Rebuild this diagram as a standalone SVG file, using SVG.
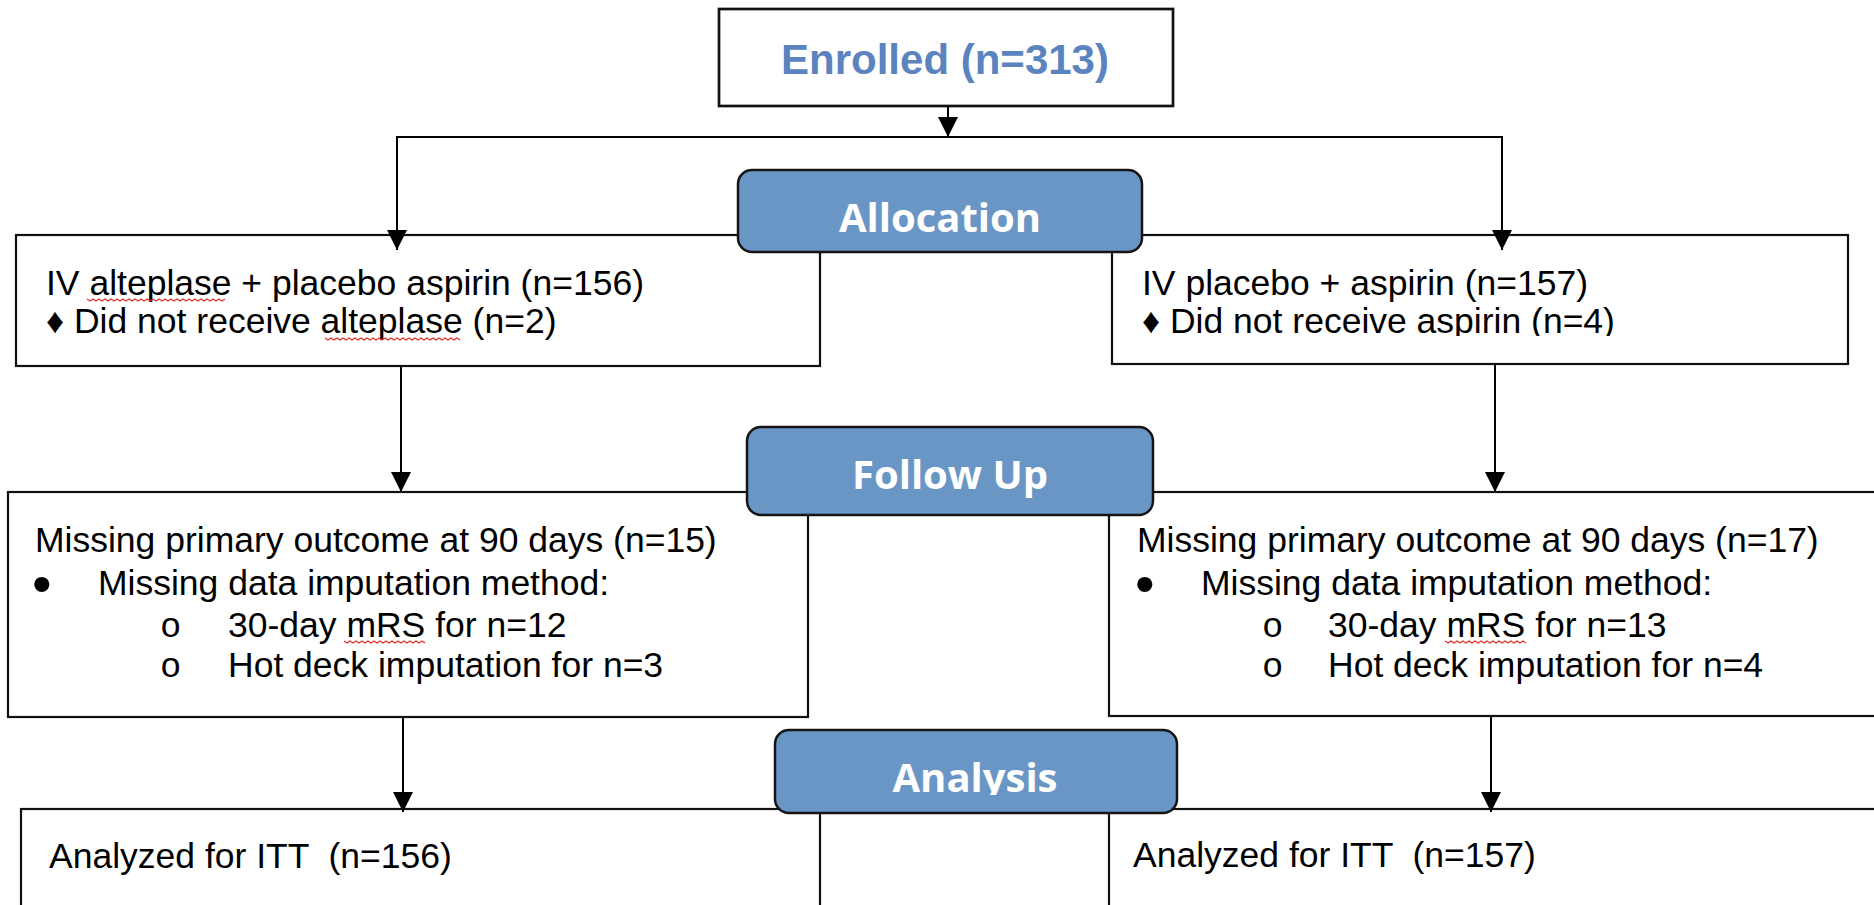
<svg xmlns="http://www.w3.org/2000/svg" width="1874" height="905" viewBox="0 0 1874 905">
<style>
.box{fill:#fff;stroke:#111;stroke-width:2.2}
.stage{fill:#6a96c6;stroke:#151515;stroke-width:2.5}
.stxt{font-family:"Open Sans","Liberation Sans",sans-serif;font-weight:700;font-size:40px;fill:#fff;text-anchor:middle}
.t{font-family:"Liberation Sans",Arial,sans-serif;font-size:35.5px;fill:#000}
.bul{font-size:56px}
.mono{font-family:"Liberation Mono","Courier New",monospace;font-size:35.5px;fill:#000}
.conn{stroke:#000;stroke-width:2;fill:none}
.sq{stroke:#e0302a;stroke-width:1.2;fill:none}
</style>
<defs>
<marker id="ah" markerUnits="userSpaceOnUse" markerWidth="20" markerHeight="20" refX="20" refY="10" orient="auto">
<path d="M0,0 L20,10 L0,20 z" fill="#000"/>
</marker>
<clipPath id="clipR2"><rect x="1100" y="300" width="760" height="36"/></clipPath>
<clipPath id="clipAn"><rect x="780" y="735" width="390" height="60"/></clipPath>
</defs>
<rect width="1874" height="905" fill="#fff"/>

<g id="enrolled">
<rect x="719" y="9" width="454" height="97" fill="#fff" stroke="#111" stroke-width="2.7"/>
<text x="945" y="74" text-anchor="middle" font-family="Liberation Sans, Arial, sans-serif" font-weight="700" font-size="42" fill="#5b84bf">Enrolled (n=313)</text>
</g>

<g id="arm-left">
<rect class="box" x="16" y="235" width="804" height="131"/>
<text class="t" x="46" y="295">IV alteplase + placebo aspirin (n=156)</text>
<text class="t" x="46" y="333">♦ Did not receive alteplase (n=2)</text>
<path class="sq" d="M87,299 l3,2 l3,-2 l3,2 l3,-2 l3,2 l3,-2 l3,2 l3,-2 l3,2 l3,-2 l3,2 l3,-2 l3,2 l3,-2 l3,2 l3,-2 l3,2 l3,-2 l3,2 l3,-2 l3,2 l3,-2 l3,2 l3,-2 l3,2 l3,-2 l3,2 l3,-2 l3,2 l3,-2 l3,2 l3,-2 l3,2 l3,-2 l3,2 l3,-2 l3,2 l3,-2 l3,2 l3,-2 l3,2 l3,-2 l3,2 l3,-2 l3,2 l3,-2"/>
<path class="sq" d="M325,338 l3,2 l3,-2 l3,2 l3,-2 l3,2 l3,-2 l3,2 l3,-2 l3,2 l3,-2 l3,2 l3,-2 l3,2 l3,-2 l3,2 l3,-2 l3,2 l3,-2 l3,2 l3,-2 l3,2 l3,-2 l3,2 l3,-2 l3,2 l3,-2 l3,2 l3,-2 l3,2 l3,-2 l3,2 l3,-2 l3,2 l3,-2 l3,2 l3,-2 l3,2 l3,-2 l3,2 l3,-2 l3,2 l3,-2 l3,2 l3,-2 l3,2"/>
</g>

<g id="arm-right">
<rect class="box" x="1112" y="235" width="736" height="129"/>
<text class="t" x="1142" y="295">IV placebo + aspirin (n=157)</text>
<text class="t" x="1142" y="333" clip-path="url(#clipR2)">♦ Did not receive aspirin (n=4)</text>
</g>

<g id="followup-left">
<rect class="box" x="8" y="492" width="800" height="225"/>
<text class="t" x="35" y="552">Missing primary outcome at 90 days (n=15)</text>
<text class="t" y="595"><tspan class="bul" x="32" dy="8">•</tspan><tspan x="98" dy="-8">Missing data imputation method:</tspan></text>
<text class="mono" x="160" y="637">o</text>
<text class="t" x="228" y="637">30-day mRS for n=12</text>
<text class="mono" x="160" y="677">o</text>
<text class="t" x="228" y="677">Hot deck imputation for n=3</text>
<path class="sq" d="M344,641 l3,2 l3,-2 l3,2 l3,-2 l3,2 l3,-2 l3,2 l3,-2 l3,2 l3,-2 l3,2 l3,-2 l3,2 l3,-2 l3,2 l3,-2 l3,2 l3,-2 l3,2 l3,-2 l3,2 l3,-2 l3,2 l3,-2 l3,2 l3,-2 l3,2"/>
</g>

<g id="followup-right">
<rect class="box" x="1109" y="492" width="780" height="224"/>
<text class="t" x="1137" y="552">Missing primary outcome at 90 days (n=17)</text>
<text class="t" y="595"><tspan class="bul" x="1135" dy="8">•</tspan><tspan x="1201" dy="-8">Missing data imputation method:</tspan></text>
<text class="mono" x="1262" y="637">o</text>
<text class="t" x="1328" y="637">30-day mRS for n=13</text>
<text class="mono" x="1262" y="677">o</text>
<text class="t" x="1328" y="677">Hot deck imputation for n=4</text>
<path class="sq" d="M1445,641 l3,2 l3,-2 l3,2 l3,-2 l3,2 l3,-2 l3,2 l3,-2 l3,2 l3,-2 l3,2 l3,-2 l3,2 l3,-2 l3,2 l3,-2 l3,2 l3,-2 l3,2 l3,-2 l3,2 l3,-2 l3,2 l3,-2 l3,2 l3,-2 l3,2"/>
</g>

<g id="analysis-left">
<rect class="box" x="21" y="809" width="799" height="110" stroke-width="2.6"/>
<text class="t" x="49" y="868" xml:space="preserve">Analyzed for ITT  (n=156)</text>
</g>

<g id="analysis-right">
<rect class="box" x="1109" y="809" width="780" height="110" stroke-width="2.6"/>
<text class="t" x="1133" y="867" xml:space="preserve">Analyzed for ITT  (n=157)</text>
</g>

<g id="connectors">
<line class="conn" x1="948" y1="106" x2="948" y2="137" marker-end="url(#ah)"/>
<line class="conn" x1="396" y1="137" x2="1503" y2="137"/>
<line class="conn" x1="397" y1="137" x2="397" y2="250" marker-end="url(#ah)"/>
<line class="conn" x1="1502" y1="137" x2="1502" y2="250" marker-end="url(#ah)"/>
<line class="conn" x1="401" y1="367" x2="401" y2="492" marker-end="url(#ah)"/>
<line class="conn" x1="1495" y1="364" x2="1495" y2="492" marker-end="url(#ah)"/>
<line class="conn" x1="403" y1="717" x2="403" y2="812" marker-end="url(#ah)"/>
<line class="conn" x1="1491" y1="716" x2="1491" y2="812" marker-end="url(#ah)"/>
</g>

<g id="allocation">
<rect class="stage" x="738" y="170" width="404" height="82" rx="14"/>
<text class="stxt" x="940" y="232">Allocation</text>
</g>

<g id="followup">
<rect class="stage" x="747" y="427" width="406" height="88" rx="14"/>
<text class="stxt" x="950" y="489">Follow Up</text>
</g>

<g id="analysis">
<rect class="stage" x="775" y="730" width="402" height="83" rx="14"/>
<text class="stxt" x="975" y="792" clip-path="url(#clipAn)">Analysis</text>
</g>
</svg>
